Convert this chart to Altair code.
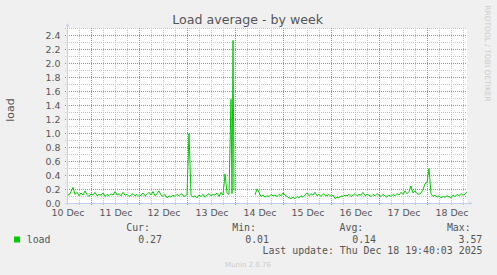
import altair as alt
import pandas as pd

# ---- data (hourly load samples, starting 10 Dec 11:45; None = no data) ----
start_hour = 11.75  # hours after 10 Dec 00:00
load = [
    0.14, 0.12, 0.17, 0.23, 0.13, 0.16, 0.11, 0.15, 0.12, 0.18,
    0.13, 0.10, 0.14, 0.12, 0.16, 0.11, 0.13, 0.12, 0.15, 0.10,
    0.13, 0.11, 0.14, 0.12, 0.17, 0.12, 0.14, 0.11, 0.16, 0.12,
    0.13, 0.10, 0.12, 0.14, 0.11, 0.13, 0.10, 0.12, 0.15, 0.11,
    0.13, 0.16, 0.12, 0.17, 0.11, 0.14, 0.18, 0.12, 0.10, 0.13,
    0.08, 0.11, 0.09, 0.12, 0.10, 0.13, 0.11, 0.14, 0.12, 0.10,
    0.13, 1.00, 0.12, 0.09, 0.11, 0.08, 0.12, 0.10, 0.13, 0.09,
    0.12, 0.14, 0.11, 0.13, 0.12, 0.15, 0.10, 0.16, 0.12, 0.42,
    0.15, 0.13, 1.49, 2.33, None, None, None, None, None, None,
    None, None, None, None, 0.12, 0.21, 0.16, 0.10, 0.12, 0.09,
    0.11, 0.10, 0.13, 0.11, 0.12, 0.10, 0.13, 0.11, 0.15, 0.12,
    0.10, 0.08, 0.07, 0.09, 0.07, 0.10, 0.08, 0.11, 0.09, 0.12,
    0.15, 0.11, 0.14, 0.12, 0.16, 0.11, 0.13, 0.10, 0.14, 0.12,
    0.11, 0.13, 0.10, 0.12, 0.07, 0.09, 0.08, 0.11, 0.10, 0.12,
    0.11, 0.13, 0.10, 0.12, 0.14, 0.11, 0.13, 0.12, 0.16, 0.11,
    0.13, 0.12, 0.10, 0.13, 0.11, 0.14, 0.12, 0.10, 0.13, 0.11,
    0.09, 0.12, 0.10, 0.13, 0.11, 0.14, 0.12, 0.16, 0.13, 0.18,
    0.14, 0.17, 0.25, 0.15, 0.18, 0.14, 0.13, 0.15, 0.20, 0.28,
    0.30, 0.50, 0.14, 0.10, 0.12, 0.09, 0.11, 0.08, 0.10, 0.09,
    0.11, 0.10, 0.08, 0.12, 0.10, 0.13, 0.11, 0.14, 0.12, 0.13,
    0.17,
]
# extra half-hour samples around the 13 Dec spikes
detail_hours = [94.25, 95.25]
detail_load = [0.14, 0.19]

day_labels = ["10 Dec", "11 Dec", "12 Dec", "13 Dec", "14 Dec",
              "15 Dec", "16 Dec", "17 Dec", "18 Dec"]
y_ticks = [0.0, 0.2, 0.4, 0.6, 0.8, 1.0, 1.2, 1.4, 1.6, 1.8, 2.0, 2.2, 2.4]

series_name = "load"
stat_heads = ["Cur:", "Min:", "Avg:", "Max:"]
stat_vals = ["0.27", "0.01", "0.14", "3.57"]
title_text = "Load average - by week"
last_update = "Last update: Thu Dec 18 19:40:03 2025"
footer = "Munin 2.0.76"
side_text = "RRDTOOL / TOBI OETIKER"

# ---- build table ----
rows = []
seg = 0
prev_none = False
for i, v in enumerate(load):
    if v is None:
        if not prev_none:
            seg += 1
        prev_none = True
        continue
    prev_none = False
    rows.append({"t": start_hour + i, "v": v, "seg": seg})
for t, v in zip(detail_hours, detail_load):
    rows.append({"t": t, "v": v, "seg": 0})
df = pd.DataFrame(rows).sort_values(["seg", "t"])

# ---- layout ----
W, H = 400, 175
PL, PT = 67, 28.5
x_lo, x_hi = start_hour, start_hour + 200
y_lo, y_hi = 0.0, 2.5
xs = alt.Scale(domain=[x_lo, x_hi], nice=False, zero=False)
ys = alt.Scale(domain=[y_lo, y_hi], nice=False)
px_x = (x_hi - x_lo) / W   # hours per pixel
px_y = (y_hi - y_lo) / H   # load units per pixel

AXIS_COL = "#C4CDF5"
MINOR_COL = "#C4C4C4"
MAJOR_COL = "#D97474"
TXT = "#555555"
FONT = "DejaVu Sans"
MONO = "DejaVu Sans Mono"

label_expr = "[" + ",".join("'%s'" % s for s in day_labels) + "][round((datum.value-12)/24)]"
x_axis = alt.Axis(
    values=[12 + 24 * i for i in range(len(day_labels))],
    labelExpr=label_expr, title=None, grid=False, ticks=False, domain=False,
    labelFont=FONT, labelFontSize=9.4, labelColor=TXT, labelPadding=4.5,
    labelFlush=False, labelOverlap=False)
y_axis = alt.Axis(
    values=y_ticks, format=".1f", title=None, grid=False, ticks=False,
    domain=False, labelFont=FONT, labelFontSize=9.4, labelColor=TXT,
    labelPadding=7, labelOverlap=False, labelFlush=False)

# grid line positions (derived from the axis, not data), drawn as 2-point paths
x_minor = [h for h in range(12, 212, 6) if h % 24 != 0]
x_major = [h for h in range(24, 212, 24)]
y_minor = [round(0.1 * k, 1) for k in range(1, 26) if k % 2 == 1]
y_major = [round(0.2 * k, 1) for k in range(1, 13)]


def vpaths(pos):
    out = []
    for i, p in enumerate(pos):
        out.append({"gx": p, "gy": y_hi + 0.5 * px_y, "id": i})
        out.append({"gx": p, "gy": y_lo - 2.5 * px_y, "id": i})
    return pd.DataFrame(out)


def hpaths(pos):
    out = []
    for i, p in enumerate(pos):
        out.append({"gx": x_lo - 2 * px_x, "gy": p, "id": i})
        out.append({"gx": x_hi, "gy": p, "id": i})
    return pd.DataFrame(out)


def grid_layer(frame, col):
    return alt.Chart(frame).mark_line(
        color=col, strokeDash=[1, 1], strokeWidth=1, clip=False
    ).encode(
        x=alt.X("gx:Q", scale=xs, axis=x_axis),
        y=alt.Y("gy:Q", scale=ys, axis=y_axis),
        detail="id:N",
    )


vminor = grid_layer(vpaths(x_minor), MINOR_COL)
hminor = grid_layer(hpaths(y_minor), MINOR_COL)
vmajor = grid_layer(vpaths(x_major), MAJOR_COL)
hmajor = grid_layer(hpaths(y_major), MAJOR_COL)

# axis lines (slightly beyond the plot, as rrdtool draws them)
axis_df = pd.DataFrame([
    {"gx": x_lo + 0.5 * px_x, "gy": y_lo, "id": 0},
    {"gx": x_lo + 0.5 * px_x, "gy": y_hi + 2.5 * px_y, "id": 0},
    {"gx": x_lo - 2 * px_x, "gy": y_lo, "id": 1},
    {"gx": x_hi + 3 * px_x, "gy": y_lo, "id": 1},
])
axes_lines = alt.Chart(axis_df).mark_line(
    color=AXIS_COL, strokeWidth=1, clip=False
).encode(
    x=alt.X("gx:Q", scale=xs, axis=x_axis),
    y=alt.Y("gy:Q", scale=ys, axis=y_axis),
    detail="id:N",
)

line = alt.Chart(df).mark_line(color="#00CC00", strokeWidth=1, clip=True).encode(
    x=alt.X("t:Q", scale=xs, axis=x_axis),
    y=alt.Y("v:Q", scale=ys, axis=y_axis),
    detail="seg:N",
)

one = pd.DataFrame({"k": [0]})


def txt(s, x, y, size, color=TXT, font=FONT, align="left", angle=0, baseline="alphabetic"):
    return alt.Chart(pd.DataFrame({"s": [s]})).mark_text(
        font=font, fontSize=size, color=color, align=align, angle=angle,
        baseline=baseline
    ).encode(text="s:N", x=alt.value(x - PL), y=alt.value(y - PT))


up_arrow = alt.Chart(one).mark_point(
    shape="M-1,1L0,-1L1,1Z", filled=True, color=AXIS_COL, opacity=1, size=9
).encode(x=alt.value(0.5), y=alt.value(24.5 - PT))
right_arrow = alt.Chart(one).mark_point(
    shape="M-1,-1L1,0L-1,1Z", filled=True, color=AXIS_COL, opacity=1, size=9
).encode(x=alt.value(471 - PL), y=alt.value(H))

legend_sq = alt.Chart(one).mark_point(
    shape="square", filled=True, color="#00CC00", opacity=1, size=36
).encode(x=alt.value(17 - PL), y=alt.value(239.5 - PT))

texts = [
    txt(title_text, 247.7, 24, 12.6, color="#555555", align="center"),
    txt("load", 14, 110, 11, color="#555555", align="center", angle=270),
    txt(side_text, 485, 53.5, 7.5, color="#CCCCCC", align="center", angle=90),
    txt(series_name, 26.7, 242.5, 9.9, font=MONO),
    txt(last_update, 482.5, 254, 9.9, font=MONO, align="right"),
    txt(footer, 248, 267, 7, color="#CCCCCC", align="center"),
]
head_right = [150, 256, 363.3, 470.7]
val_right = [162, 269, 376, 482.3]
for h, v, hx, vx in zip(stat_heads, stat_vals, head_right, val_right):
    texts.append(txt(h, hx, 231, 9.9, font=MONO, align="right"))
    texts.append(txt(v, vx, 242.5, 9.9, font=MONO, align="right"))

chart = alt.layer(
    vminor, hminor, vmajor, hmajor, line, axes_lines, up_arrow, right_arrow,
    legend_sq, *texts
).properties(
    width=W, height=H,
    autosize=alt.AutoSizeParams(type="none"),
    padding={"left": PL, "top": PT, "right": 497 - PL - W, "bottom": 275 - PT - H},
    background="#F0F0F0",
).configure_view(fill="white", stroke=None)

chart.save("out.html", embed_options={"renderer": "svg", "actions": False})
